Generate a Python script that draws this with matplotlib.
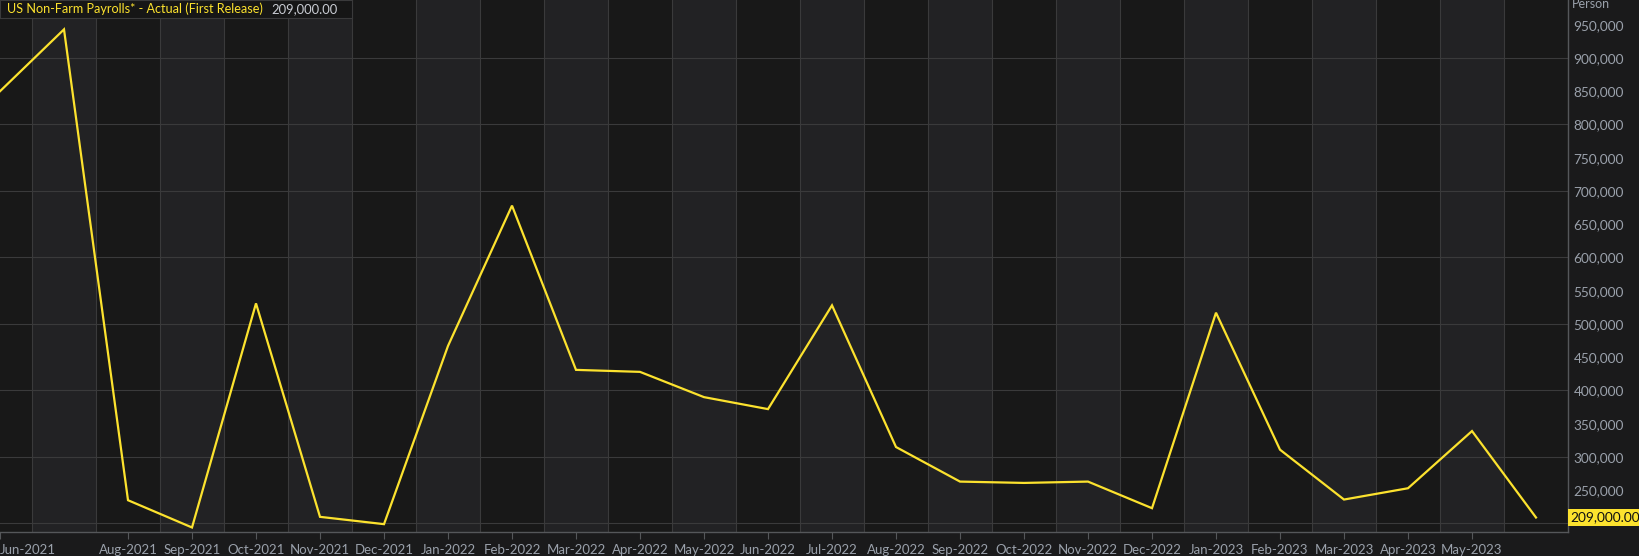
import matplotlib
matplotlib.use('Agg')
import matplotlib.pyplot as plt
from matplotlib.ticker import FixedLocator, FuncFormatter

months = ['Jun-2021', 'Jul-2021', 'Aug-2021', 'Sep-2021', 'Oct-2021', 'Nov-2021', 'Dec-2021',
          'Jan-2022', 'Feb-2022', 'Mar-2022', 'Apr-2022', 'May-2022', 'Jun-2022', 'Jul-2022',
          'Aug-2022', 'Sep-2022', 'Oct-2022', 'Nov-2022', 'Dec-2022', 'Jan-2023', 'Feb-2023',
          'Mar-2023', 'Apr-2023', 'May-2023', 'Jun-2023']
payrolls = [850000, 943000, 235000, 194000, 531000, 210000, 199000,
            467000, 678000, 431000, 428000, 390000, 372000, 528000,
            315000, 263000, 261000, 263000, 223000, 517000, 311000,
            236000, 253000, 339000, 209000]
# labels shown on the axis (Jul-2021 and Jun-2023 are hidden in the original)
shown = [m for m in months if m not in ('Jul-2021', 'Jun-2023')]
ytick_vals = list(range(250000, 950001, 50000))
title_str = 'US Non-Farm Payrolls* - Actual (First Release)'
last_str = '209,000.00'

BG = '#1a1a1b'
BAND_DARK = '#181818'
BAND_LIGHT = '#222224'
GRID = '#3a3a3b'
SPINE = '#55575a'
TXT = '#9aa1ab'
YEL = '#fce22e'

plt.rcParams['font.family'] = ['Lato', 'DejaVu Sans']

fig = plt.figure(figsize=(16.39, 5.56), dpi=100, facecolor=BG)
ax = fig.add_axes([0.0, 1 - 532 / 556, 1568 / 1639, 532 / 556])
ax.set_facecolor(BAND_DARK)

x = list(range(len(months)))
ax.set_xlim(0, 24.5)
ax.set_ylim(187200, 987200)

# alternating month bands
for i in x:
    if i % 2 == 1:
        ax.axvspan(i - 0.5, i + 0.5, color=BAND_LIGHT, lw=0, zorder=0)

# grid
for i in x:
    ax.axvline(i + 0.5, color=GRID, lw=0.8, zorder=1)
for v in range(200000, 1000001, 100000):
    ax.axhline(v, color=GRID, lw=0.8, zorder=1)

ax.plot(x, payrolls, color=YEL, lw=1.6, zorder=3, solid_joinstyle='miter')

# axes styling
for s in ['top', 'left']:
    ax.spines[s].set_visible(False)
for s in ['bottom', 'right']:
    ax.spines[s].set_color(SPINE)
    ax.spines[s].set_linewidth(1.0)

tick_pos = [months.index(m) for m in shown]
ax.xaxis.set_major_locator(FixedLocator(tick_pos))
ax.set_xticklabels(shown)
ax.tick_params(axis='x', colors=SPINE, length=5, width=0.8, labelsize=9.5,
               labelcolor=TXT, pad=4)
ax.get_xticklabels()[0].set_horizontalalignment('left')

ax.yaxis.tick_right()
ax.yaxis.set_major_locator(FixedLocator(ytick_vals))
ax.yaxis.set_major_formatter(FuncFormatter(lambda v, p: f'{int(v):,}'))
ax.tick_params(axis='y', length=0, labelsize=9.8, labelcolor=TXT, pad=4)

fig.text(1572 / 1639, 1 - 4 / 556, 'Person', color=TXT, fontsize=9, ha='left', va='center')

# last value marker
ax.annotate(last_str, xy=(1.0, payrolls[-1]), xycoords=('axes fraction', 'data'),
            xytext=(2, 0), textcoords='offset points', ha='left', va='center',
            fontsize=9.8, color='#111111',
            bbox=dict(boxstyle='square,pad=0.2', fc=YEL, ec='none'),
            annotation_clip=False)

# legend box at top-left
lg = fig.add_axes([0.0, 1 - 18 / 556, 352 / 1639, 18 / 556])
lg.set_facecolor('#161616')
lg.set_xticks([])
lg.set_yticks([])
for s in lg.spines.values():
    s.set_color('#3a3a3b')
    s.set_linewidth(0.8)
lg.text(7 / 352, 0.5, title_str, color=YEL, fontsize=9.1, ha='left', va='center',
        transform=lg.transAxes)
lg.text(271 / 352, 0.5, last_str, color='#c9ccd3', fontsize=9.4, ha='left', va='center',
        transform=lg.transAxes)

fig.savefig('out.png', dpi=100, facecolor=BG)
